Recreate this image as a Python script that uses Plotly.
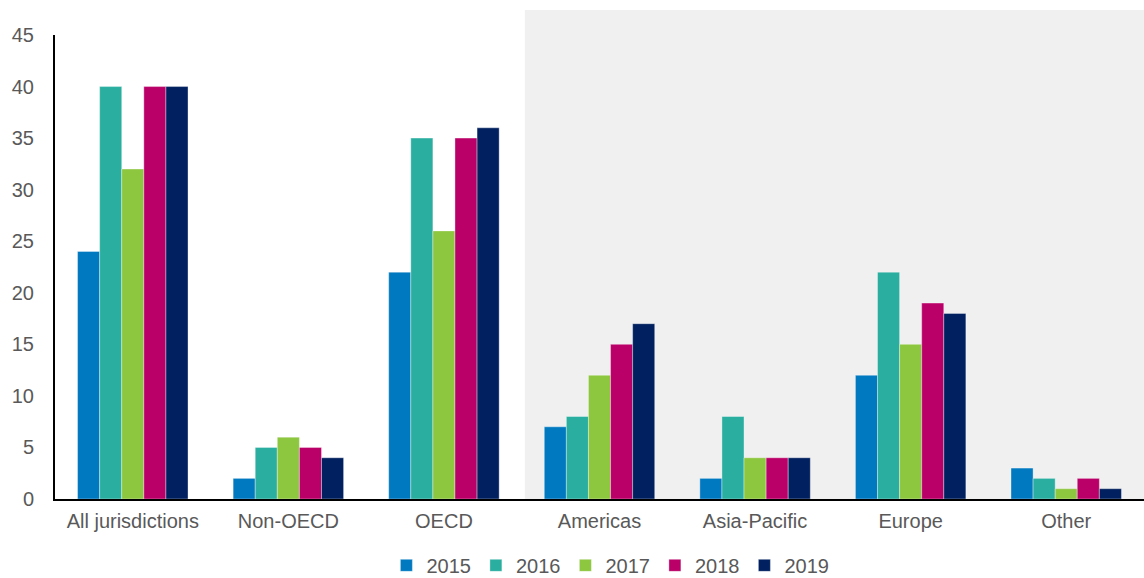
import plotly.graph_objects as go

categories = ["All jurisdictions", "Non-OECD", "OECD", "Americas", "Asia-Pacific", "Europe", "Other"]
years = ["2015", "2016", "2017", "2018", "2019"]
v2015 = [24, 2, 22, 7, 2, 12, 3]
v2016 = [40, 5, 35, 8, 8, 22, 2]
v2017 = [32, 6, 26, 12, 4, 15, 1]
v2018 = [40, 5, 35, 15, 4, 19, 2]
v2019 = [40, 4, 36, 17, 4, 18, 1]
series = [v2015, v2016, v2017, v2018, v2019]
colors = ["#0079C1", "#2AAEA0", "#8DC63F", "#BA0068", "#00205F"]
yticks = [0, 5, 10, 15, 20, 25, 30, 35, 40, 45]

FONT = "Liberation Sans, Arial, sans-serif"

fig = go.Figure()
for name, vals, c in zip(years, series, colors):
    fig.add_trace(go.Bar(x=categories, y=vals, name=name,
                         marker=dict(color=c, line=dict(color="rgba(255,255,255,0.6)", width=0.6))))

fig.add_shape(type="rect", xref="x", yref="paper", x0=2.52, x1=6.6, y0=0, y1=1.054,
              fillcolor="#F0F0F0", line=dict(width=0), layer="below")

fig.update_layout(
    width=1144, height=578,
    margin=dict(l=55, r=0, t=35, b=79, autoexpand=False),
    paper_bgcolor="white", plot_bgcolor="rgba(0,0,0,0)",
    barmode="group", bargap=0.29, bargroupgap=0,
    font=dict(family=FONT, size=20, color="#595959"),
    showlegend=True,
    legend=dict(orientation="h", x=0.51, xanchor="center", y=-0.143, yanchor="middle",
                font=dict(family=FONT, size=20, color="#595959"), traceorder="normal"),
    xaxis=dict(showline=True, linecolor="black", linewidth=2, ticks="", showgrid=False,
               automargin=False, range=[-0.5, 6.5], ticklabelstandoff=3,
               tickfont=dict(size=20, color="#595959")),
    yaxis=dict(showline=True, linecolor="black", linewidth=2, ticks="", showgrid=False,
               automargin=False, range=[0, 45], tickvals=yticks, ticklabelstandoff=15,
               tickfont=dict(size=20, color="#595959"), zeroline=False),
)
fig.write_html("out.html", config={"displayModeBar": False},
               post_script="document.body.style.margin='0';document.body.style.overflow='hidden';")
